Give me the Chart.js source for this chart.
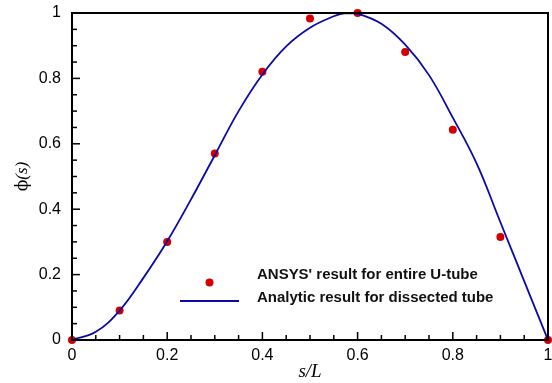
<!DOCTYPE html>
<html>
<head>
<meta charset="utf-8">
<script src="https://cdn.jsdelivr.net/npm/chart.js@4.4.1/dist/chart.umd.min.js"></script>
<style>
    html, body { margin: 0; padding: 0; background: #fff; }
    #wrap { width: 552px; height: 383px; }
</style>
</head>
<body>
<div id="wrap"><canvas id="phiChart"></canvas></div>
<script>
// ANSYS points (red dots)
const ansysS = [0, 0.1, 0.2, 0.3, 0.4, 0.5, 0.6, 0.7, 0.8, 0.9, 1];
const ansysPhi = [0, 0.09, 0.30, 0.57, 0.82, 0.983, 1.0, 0.881, 0.643, 0.315, 0];

// analytic curve (blue line)
const analyticS = [0, 0.05, 0.1, 0.15, 0.2, 0.25, 0.3, 0.35, 0.4, 0.45, 0.5, 0.55, 0.575, 0.6, 0.65, 0.7, 0.75, 0.8, 0.85, 0.9, 0.95, 1];
const analyticPhi = [0, 0.025, 0.09, 0.19, 0.302, 0.43, 0.565, 0.70, 0.812, 0.898, 0.955, 0.99, 1.0, 0.998, 0.967, 0.903, 0.81, 0.68, 0.54, 0.36, 0.18, 0];

// axis ticks
const majorTicks = [0, 0.2, 0.4, 0.6, 0.8, 1];
const minorTicks = [0.05, 0.1, 0.15, 0.25, 0.3, 0.35, 0.45, 0.5, 0.55, 0.65, 0.7, 0.75, 0.85, 0.9, 0.95];
const tickLabels = ['0', '0.2', '0.4', '0.6', '0.8', '1'];

const seriesNames = ["ANSYS' result for entire U-tube", 'Analytic result for dissected tube'];

const dotColor = '#d40000';
const lineColor = '#0a0aa8';

// frame, inward ticks, legend and axis titles
const decorPlugin = {
    id: 'decor',
    afterDatasetsDraw(chart) {
        const ctx = chart.ctx;
        const a = chart.chartArea;
        const xs = chart.scales.x;
        const ys = chart.scales.y;
        ctx.save();

        // ticks pointing inward
        ctx.strokeStyle = '#000';
        ctx.lineWidth = 1.5;
        const tick = (v, len) => {
            const px = xs.getPixelForValue(v);
            ctx.beginPath();
            ctx.moveTo(px, a.bottom);
            ctx.lineTo(px, a.bottom - len);
            ctx.stroke();
            const py = ys.getPixelForValue(v);
            ctx.beginPath();
            ctx.moveTo(a.left, py);
            ctx.lineTo(a.left + len, py);
            ctx.stroke();
        };
        majorTicks.forEach(v => tick(v, 8));
        minorTicks.forEach(v => tick(v, 5));

        // frame
        ctx.lineWidth = 2;
        ctx.strokeRect(a.left, a.top, a.right - a.left, a.bottom - a.top);

        // legend
        const ds = chart.data.datasets;
        const lx = 180, lw = 59, tx = 257;
        ctx.fillStyle = dotColor;
        ctx.beginPath();
        ctx.arc(lx + lw / 2, 282.5, 4, 0, Math.PI * 2);
        ctx.fill();
        ctx.strokeStyle = lineColor;
        ctx.lineWidth = 1.8;
        ctx.beginPath();
        ctx.moveTo(lx, 301);
        ctx.lineTo(lx + lw, 301);
        ctx.stroke();
        ctx.fillStyle = '#111';
        ctx.font = 'bold 14px "Liberation Sans", Arial, sans-serif';
        ctx.textBaseline = 'middle';
        ctx.textAlign = 'left';
        ctx.save();
        ctx.translate(tx, 0);
        ctx.scale(1.07, 1);
        ctx.fillText(ds[1].label, 0, 275);
        ctx.fillText(ds[0].label, 0, 298);
        ctx.restore();

        // x title
        ctx.fillStyle = '#000';
        ctx.textAlign = 'center';
        ctx.font = 'italic 19px "Liberation Serif", "Times New Roman", serif';
        ctx.fillText('s/L', (a.left + a.right) / 2, 372);

        // y title, rotated: upright phi + italic (s)
        ctx.translate(23, (a.top + a.bottom) / 2);
        ctx.rotate(-Math.PI / 2);
        ctx.textAlign = 'left';
        const phiFont = '17px "DejaVu Serif", "Liberation Serif", serif';
        const sFont = 'italic 17px "Liberation Serif", "Times New Roman", serif';
        ctx.font = phiFont;
        const w1 = ctx.measureText('\u03d5').width;
        ctx.font = sFont;
        const w2 = ctx.measureText('(s)').width;
        let x0 = -(w1 + w2) / 2;
        ctx.font = phiFont;
        ctx.fillText('\u03d5', x0, 0);
        ctx.font = sFont;
        ctx.fillText('(s)', x0 + w1, 0);

        ctx.restore();
    }
};

const tickFont = { family: '"Liberation Sans", Arial, sans-serif', size: 16 };

new Chart(document.getElementById('phiChart'), {
    type: 'scatter',
    data: {
        datasets: [{
            label: seriesNames[1],
            data: analyticS.map((s, i) => ({ x: s, y: analyticPhi[i] })),
            showLine: true,
            borderColor: lineColor,
            borderWidth: 1.8,
            pointRadius: 0,
            tension: 0.4,
            order: 0
        }, {
            label: seriesNames[0],
            data: ansysS.map((s, i) => ({ x: s, y: ansysPhi[i] })),
            showLine: false,
            backgroundColor: dotColor,
            borderColor: dotColor,
            borderWidth: 0,
            pointRadius: 4,
            clip: false,
            order: 1
        }]
    },
    options: {
        responsive: true,
        maintainAspectRatio: false,
        animation: false,
        layout: {
            padding: { top: 13, right: 3, left: 0, bottom: 0 }
        },
        plugins: {
            legend: { display: false },
            tooltip: { enabled: false }
        },
        scales: {
            x: {
                type: 'linear',
                min: 0,
                max: 1,
                afterBuildTicks: scale => { scale.ticks = majorTicks.map(v => ({ value: v })); },
                afterFit: scale => {
                    scale.height = 43;
                    scale.paddingLeft = 0;
                    scale.paddingRight = 0;
                },
                grid: { display: false, drawTicks: false },
                border: { display: false },
                ticks: {
                    autoSkip: false,
                    maxRotation: 0,
                    padding: 6,
                    color: '#000',
                    font: tickFont,
                    callback: (v, i) => tickLabels[i]
                }
            },
            y: {
                type: 'linear',
                min: 0,
                max: 1,
                afterBuildTicks: scale => { scale.ticks = majorTicks.map(v => ({ value: v })); },
                afterFit: scale => {
                    scale.width = 72;
                    scale.paddingTop = 0;
                    scale.paddingBottom = 0;
                },
                grid: { display: false, drawTicks: false },
                border: { display: false },
                ticks: {
                    autoSkip: false,
                    padding: 11,
                    color: '#000',
                    font: tickFont,
                    callback: (v, i) => tickLabels[i]
                }
            }
        }
    },
    plugins: [decorPlugin]
});
</script>
</body>
</html>
